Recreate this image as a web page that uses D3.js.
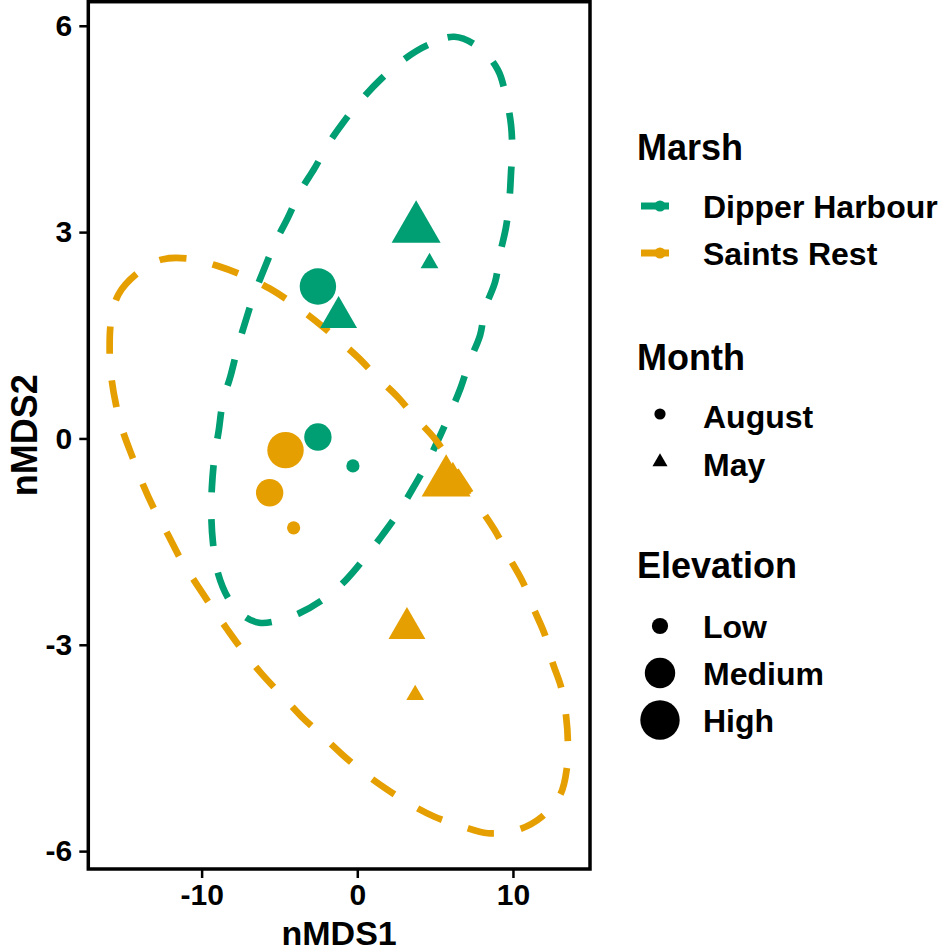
<!DOCTYPE html>
<html>
<head>
<meta charset="utf-8">
<style>
  body { margin: 0; background: #fff; }
  svg { display: block; font-family: 'Liberation Sans', Arial, sans-serif; font-weight: bold; }
</style>
</head>
<body>
<svg width="945" height="952"></svg>
<script src="https://d3js.org/d3.v7.min.js"></script>
<script>
// ---- data ----
let marshes = ["Dipper Harbour", "Saints Rest"]
let marshColours = ["#009E73", "#E69F00"]
let months = ["August", "May"]
let elevations = ["Low", "Medium", "High"]
let xTicks = [-10, 0, 10]
let yTicks = [-6, -3, 0, 3, 6]

// nMDS scores, in drawing order
let pointMarsh = ["Dipper Harbour", "Dipper Harbour", "Dipper Harbour", "Dipper Harbour", "Dipper Harbour", "Dipper Harbour",
                  "Saints Rest", "Saints Rest", "Saints Rest", "Saints Rest", "Saints Rest", "Saints Rest", "Saints Rest"]
let pointMonth = ["May", "May", "August", "May", "August", "August",
                  "August", "August", "August", "May", "May", "May", "May"]
let pointElevation = ["High", "Low", "High", "Medium", "Medium", "Low",
                      "High", "Medium", "Low", "Medium", "High", "Medium", "Low"]
let pointX = [3.78, 4.64, -2.53, -1.20, -2.53, -0.28, -4.61, -5.63, -4.09, 6.14, 5.71, 3.19, 3.72]
let pointY = [3.05, 2.55, 2.21, 1.76, 0.02, -0.40, -0.17, -0.79, -1.30, -0.65, -0.64, -2.76, -3.73]

// stat_ellipse outlines
let dipperOutline = [
  [6.24, 5.84], [4.53, 5.72], [2.93, 5.50], [1.54, 5.23], [0.36, 4.95], [-0.82, 4.62],
  [-1.84, 4.29], [-2.74, 3.93], [-3.67, 3.59], [-4.46, 3.21], [-5.27, 2.85], [-5.95, 2.48],
  [-6.60, 2.11], [-7.20, 1.69], [-7.67, 1.33], [-8.14, 0.91], [-8.63, 0.54], [-8.91, 0.10],
  [-9.17, -0.26], [-9.34, -0.71], [-9.38, -1.09], [-9.27, -1.52], [-9.00, -1.92], [-8.27, -2.33],
  [-7.24, -2.59], [-6.30, -2.68], [-5.31, -2.66], [-3.71, -2.54], [-2.06, -2.32], [-0.78, -2.07],
  [0.47, -1.74], [1.50, -1.44], [2.61, -1.09], [3.51, -0.75], [4.43, -0.38], [5.18, -0.03],
  [5.93, 0.35], [6.63, 0.73], [7.21, 1.12], [7.89, 1.50], [8.21, 1.89], [8.86, 2.28],
  [9.18, 2.69], [9.56, 3.08], [9.78, 3.49], [9.88, 3.88], [9.95, 4.15], [9.88, 4.55],
  [9.56, 4.96], [9.03, 5.36], [7.85, 5.68]
]
let saintsOutline = [
  [-15.81, 1.72], [-15.33, 2.10], [-14.09, 2.41], [-12.59, 2.60], [-10.67, 2.61], [-9.00, 2.51],
  [-7.24, 2.36], [-5.63, 2.18], [-4.14, 1.96], [-2.68, 1.71], [-1.36, 1.46], [0.04, 1.18],
  [1.28, 0.89], [2.61, 0.60], [3.78, 0.29], [4.96, 0.00], [6.50, -0.52], [7.98, -1.04],
  [8.95, -1.38], [9.78, -1.74], [10.66, -2.10], [11.36, -2.49], [12.06, -2.86], [12.55, -3.26],
  [13.11, -3.63], [13.42, -4.05], [13.53, -4.44], [13.46, -4.80], [13.06, -5.17], [11.86, -5.50],
  [10.31, -5.69], [8.39, -5.74], [6.72, -5.64], [4.96, -5.50], [3.42, -5.32], [1.82, -5.09],
  [0.42, -4.86], [-0.99, -4.59], [-2.32, -4.31], [-3.60, -4.04], [-4.84, -3.74], [-6.11, -3.43],
  [-7.24, -3.12], [-8.31, -2.79], [-9.32, -2.46], [-10.35, -2.11], [-11.31, -1.77], [-12.16, -1.40],
  [-13.02, -1.04], [-13.77, -0.67], [-14.41, -0.29], [-15.05, 0.10], [-15.49, 0.48], [-15.81, 0.91],
  [-15.91, 1.29]
]

// ---- layout ----
let panel = { left: 88.3, right: 590, top: 1.7, bottom: 869 }

let svg = d3.select("svg")

let x = d3.scaleLinear().domain([-17.28, 14.95]).range([panel.left, panel.right])
let y = d3.scaleLinear().domain([6.35, -6.26]).range([panel.top, panel.bottom])

let colour = d3.scaleOrdinal().domain(marshes).range(marshColours)
let shape = d3.scaleOrdinal().domain(months).range([d3.symbolCircle, d3.symbolTriangle])
let radius = d3.scaleOrdinal().domain(elevations).range([6.6, 13.7, 18.2])

// circle and triangle of the same area, like R's pch 16 / 17
let symbolPath = (m, r) => d3.symbol().type(shape(m)).size(Math.PI * r * r)()

// ---- ellipses ----
let outline = d3.line()
  .x(d => x(d[0]))
  .y(d => y(d[1]))
  .curve(d3.curveCatmullRomClosed.alpha(0.5))

svg.append("g")
  .selectAll("path")
  .data([dipperOutline, saintsOutline])
  .join("path")
  .attr("d", outline)
  .attr("fill", "none")
  .attr("stroke", (d, i) => colour(marshes[i]))
  .attr("stroke-width", 6.7)
  .attr("stroke-dasharray", "27 27")

// ---- points ----
svg.append("g")
  .selectAll("path")
  .data(d3.range(pointX.length))
  .join("path")
  .attr("transform", i => `translate(${x(pointX[i])},${y(pointY[i])})`)
  .attr("d", i => symbolPath(pointMonth[i], radius(pointElevation[i])))
  .attr("fill", i => colour(pointMarsh[i]))

// ---- panel border and axes ----
svg.append("rect")
  .attr("x", panel.left)
  .attr("y", panel.top)
  .attr("width", panel.right - panel.left)
  .attr("height", panel.bottom - panel.top)
  .attr("fill", "none")
  .attr("stroke", "#000")
  .attr("stroke-width", 3.5)

let xAxis = svg.append("g")
  .attr("transform", `translate(0,${panel.bottom})`)
  .call(d3.axisBottom(x).tickValues(xTicks).tickSize(9).tickPadding(6).tickFormat(d => String(d)))

let yAxis = svg.append("g")
  .attr("transform", `translate(${panel.left},0)`)
  .call(d3.axisLeft(y).tickValues(yTicks).tickSize(9).tickPadding(7).tickFormat(d => String(d)))

for (let ax of [xAxis, yAxis]) {
  ax.select(".domain").remove()
  ax.selectAll("line").attr("stroke", "#000").attr("stroke-width", 2.5)
  ax.selectAll("text")
    .attr("fill", "#000")
    .style("font-family", "'Liberation Sans', Arial, sans-serif")
    .style("font-weight", "bold")
    .style("font-size", "30px")
}

svg.append("text")
  .attr("x", (panel.left + panel.right) / 2)
  .attr("y", 944.5)
  .attr("text-anchor", "middle")
  .style("font-size", "34px")
  .text("nMDS1")

svg.append("text")
  .attr("transform", `translate(37,${(panel.top + panel.bottom) / 2}) rotate(-90)`)
  .attr("text-anchor", "middle")
  .style("font-size", "36px")
  .text("nMDS2")

// ---- legends ----
let keyX = 660
let labelX = 703
let titleX = 637

function legendTitle(text, baseline) {
  svg.append("text")
    .attr("x", titleX)
    .attr("y", baseline)
    .style("font-size", "36px")
    .text(text)
}

function legendLabel(text, baseline) {
  svg.append("text")
    .attr("x", labelX)
    .attr("y", baseline)
    .style("font-size", "32px")
    .text(text)
}

// Marsh
legendTitle("Marsh", 160)
let marshRows = [206, 253]
marshes.forEach((m, i) => {
  let g = svg.append("g").attr("transform", `translate(${keyX},${marshRows[i]})`)
  g.append("line")
    .attr("x1", -19).attr("x2", 9)
    .attr("stroke", colour(m))
    .attr("stroke-width", 7)
  g.append("path")
    .attr("d", symbolPath("August", 5.6))
    .attr("fill", colour(m))
  legendLabel(m, marshRows[i] + 12)
})

// Month
legendTitle("Month", 370)
let monthRows = [414, 462]
months.forEach((m, i) => {
  svg.append("path")
    .attr("transform", `translate(${keyX},${monthRows[i]})`)
    .attr("d", symbolPath(m, 5.6))
    .attr("fill", "#000")
  legendLabel(m, monthRows[i] + 14)
})

// Elevation
legendTitle("Elevation", 578)
let elevationRows = [626, 673, 720]
elevations.forEach((e, i) => {
  svg.append("path")
    .attr("transform", `translate(${keyX},${elevationRows[i]})`)
    .attr("d", symbolPath("August", radius(e) + 1.5))
    .attr("fill", "#000")
  legendLabel(e, elevationRows[i] + 12)
})
</script>
</body>
</html>
